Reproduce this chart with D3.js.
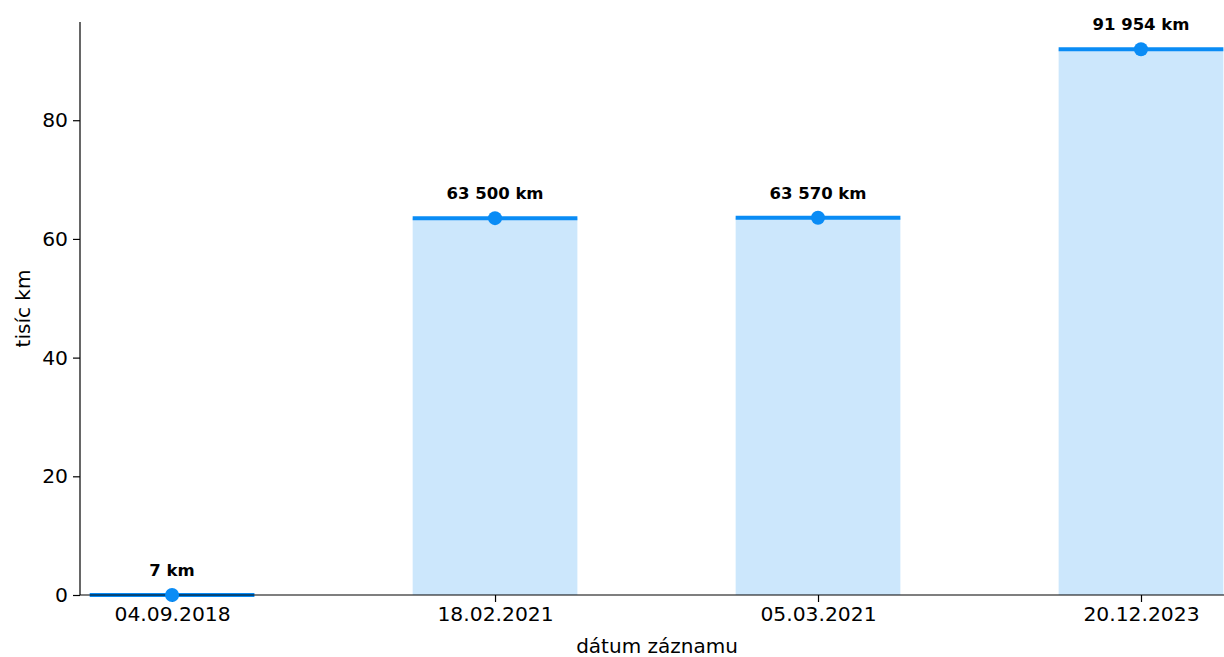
<!DOCTYPE html>
<html>
<head>
<meta charset="utf-8">
<script src="https://cdn.jsdelivr.net/npm/d3@7"></script>
<style>
  body { margin: 0; background: #ffffff; }
  svg { display: block; font-family: "DejaVu Sans", sans-serif; }
</style>
</head>
<body>
<div id="main_output"></div>
<script>
// odometer readings, in thousands of km
var dates = ["04.09.2018", "18.02.2021", "05.03.2021", "20.12.2023"];
var values = [0.007, 63.5, 63.57, 91.954];
var valueLabels = ["7 km", "63 500 km", "63 570 km", "91 954 km"];
var yTicks = [0, 20, 40, 60, 80];

const lineColour = "#0a8cf5";
const barColour = "#cce7fc";

const W = 1224, H = 657;
const margin = {top: 22, right: 0, bottom: 62, left: 80};

var svg = d3.select("#main_output").append("svg")
    .attr("width", W)
    .attr("height", H);

const x = d3.scaleLinear().domain([-0.285, 3.257]).range([margin.left, W - margin.right]),
      y = d3.scaleLinear().domain([0, d3.max(values) * 1.05]).range([H - margin.bottom, margin.top]);

const barHalf = 0.255;

// bars
svg.selectAll(".bar")
    .data(values)
    .enter()
    .append("rect")
    .attr("class", "bar")
    .attr("x", function(d, i) { return x(i - barHalf); })
    .attr("width", function(d, i) { return x(i + barHalf) - x(i - barHalf); })
    .attr("y", function(d) { return y(d); })
    .attr("height", function(d) { return y(0) - y(d); })
    .attr("fill", barColour);

// value lines
svg.selectAll(".level")
    .data(values)
    .enter()
    .append("line")
    .attr("class", "level")
    .attr("x1", function(d, i) { return x(i - barHalf); })
    .attr("x2", function(d, i) { return x(i + barHalf); })
    .attr("y1", function(d) { return y(d); })
    .attr("y2", function(d) { return y(d); })
    .attr("stroke", lineColour)
    .attr("stroke-width", 4);

// axes (over the lines, under the dots)
var xAxis = d3.axisBottom(x)
    .tickValues(d3.range(dates.length))
    .tickFormat(function(i) { return dates[i]; })
    .tickSizeOuter(0)
    .tickSize(7)
    .tickPadding(5);

var yAxis = d3.axisLeft(y)
    .tickValues(yTicks)
    .tickSizeOuter(0)
    .tickSize(7)
    .tickPadding(5);

var gx = svg.append("g")
    .attr("transform", "translate(0," + y(0) + ")")
    .call(xAxis);
var gy = svg.append("g")
    .attr("transform", "translate(" + margin.left + ",0)")
    .call(yAxis);

[gx, gy].forEach(function(g) {
  g.selectAll("text").attr("font-size", "20.3px").attr("font-family", "DejaVu Sans").attr("fill", "#000");
  g.selectAll("line").attr("stroke", "#000").attr("stroke-width", 1.2);
  g.select(".domain").attr("stroke", "#000").attr("stroke-width", 1.2);
});
gy.select(".domain").attr("d", "M0," + margin.top + "V" + y(0));
gx.select(".domain").attr("d", "M" + margin.left + ",0H" + (W - margin.right));

svg.selectAll(".dot")
    .data(values)
    .enter()
    .append("circle")
    .attr("class", "dot")
    .attr("cx", function(d, i) { return x(i); })
    .attr("cy", function(d) { return y(d); })
    .attr("r", 7)
    .attr("fill", lineColour);

svg.selectAll(".vlabel")
    .data(values)
    .enter()
    .append("text")
    .attr("class", "vlabel")
    .attr("x", function(d, i) { return x(i); })
    .attr("y", function(d) { return y(d) - 19; })
    .attr("text-anchor", "middle")
    .attr("font-size", "16.5px")
    .attr("font-weight", "bold")
    .text(function(d, i) { return valueLabels[i]; });

// axis titles
svg.append("text")
    .attr("x", (margin.left + W - margin.right) / 2 + 5)
    .attr("y", 653)
    .attr("text-anchor", "middle")
    .attr("font-size", "20px")
    .text("dátum záznamu");

svg.append("text")
    .attr("transform", "translate(30," + ((margin.top + y(0)) / 2) + ") rotate(-90)")
    .attr("text-anchor", "middle")
    .attr("font-size", "20px")
    .text("tisíc km");
</script>
</body>
</html>
